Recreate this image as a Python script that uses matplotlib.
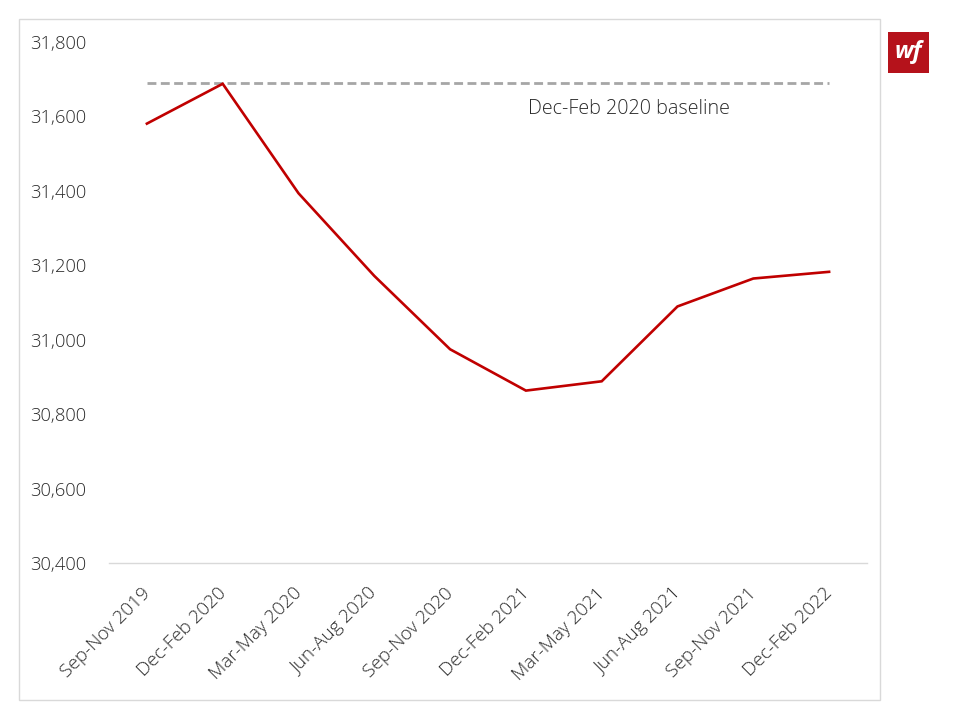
import matplotlib
matplotlib.use("Agg")
import matplotlib.pyplot as plt
from matplotlib.patches import Rectangle
from matplotlib.transforms import ScaledTranslation

categories = ["Sep-Nov 2019", "Dec-Feb 2020", "Mar-May 2020", "Jun-Aug 2020",
              "Sep-Nov 2020", "Dec-Feb 2021", "Mar-May 2021", "Jun-Aug 2021",
              "Sep-Nov 2021", "Dec-Feb 2022"]
values = [31580, 31687, 31393, 31171, 30974, 30863, 30888, 31089, 31164, 31182]
baseline_value = 31690
baseline_label = "Dec-Feb 2020 baseline"
y_ticks = [30400, 30600, 30800, 31000, 31200, 31400, 31600, 31800]

plt.rcParams['font.family'] = ['Open Sans', 'DejaVu Sans']
TXT = '#2a2a2a'

fig = plt.figure(figsize=(9.6, 7.2), dpi=100)
ax = fig.add_axes([109/960, 1 - 563/720, (867-109)/960, (563-41.7)/720])

x = list(range(len(categories)))
ax.plot(x, values, color='#c00000', lw=1.9, solid_joinstyle='miter', zorder=3)
ax.plot([x[0], x[-1]], [baseline_value, baseline_value], color='#a6a6a6',
        lw=2.0, dashes=(3.2, 1.6), zorder=2)
ax.text(5.03, 31618, baseline_label, fontsize=14.2, color=TXT,
        ha='left', va='center', fontweight='light')

ax.set_xlim(-0.5, len(categories) - 0.5)
ax.set_ylim(30400, 31800)
ax.set_yticks(y_ticks)
ax.set_yticklabels([f"{v:,}" for v in y_ticks], fontweight='light')
ax.set_xticks(x)
ax.set_xticklabels(categories, rotation=45, ha='right', va='bottom',
                   rotation_mode='anchor', fontweight='light', fontsize=13.6)

for s in ['top', 'right', 'left']:
    ax.spines[s].set_visible(False)
ax.spines['bottom'].set_color('#d9d9d9')
ax.spines['bottom'].set_linewidth(1.0)
ax.tick_params(axis='both', length=0, labelcolor=TXT)
ax.tick_params(axis='y', pad=16.5, labelsize=13.2)
ax.tick_params(axis='x', pad=24.5)
offset = ScaledTranslation(7/100, 0, fig.dpi_scale_trans)
for lbl in ax.get_xticklabels():
    lbl.set_transform(lbl.get_transform() + offset)

# border
fig.patches.append(Rectangle((18.5/960, 1 - 700/720), (880-18.5)/960, (700-19.3)/720,
                             transform=fig.transFigure, fill=False,
                             edgecolor='#d9d9d9', lw=1.0))
# logo
fig.patches.append(Rectangle((888/960, 1 - 72.7/720), 40.7/960, 40.7/720,
                             transform=fig.transFigure, facecolor='#b5121b',
                             edgecolor='none'))
fig.text(908.3/960, 1 - 52.5/720, "wf", color='white', fontsize=17,
         fontweight='bold', fontstyle='italic', ha='center', va='center')

fig.savefig("out.png", dpi=100, facecolor='white')
